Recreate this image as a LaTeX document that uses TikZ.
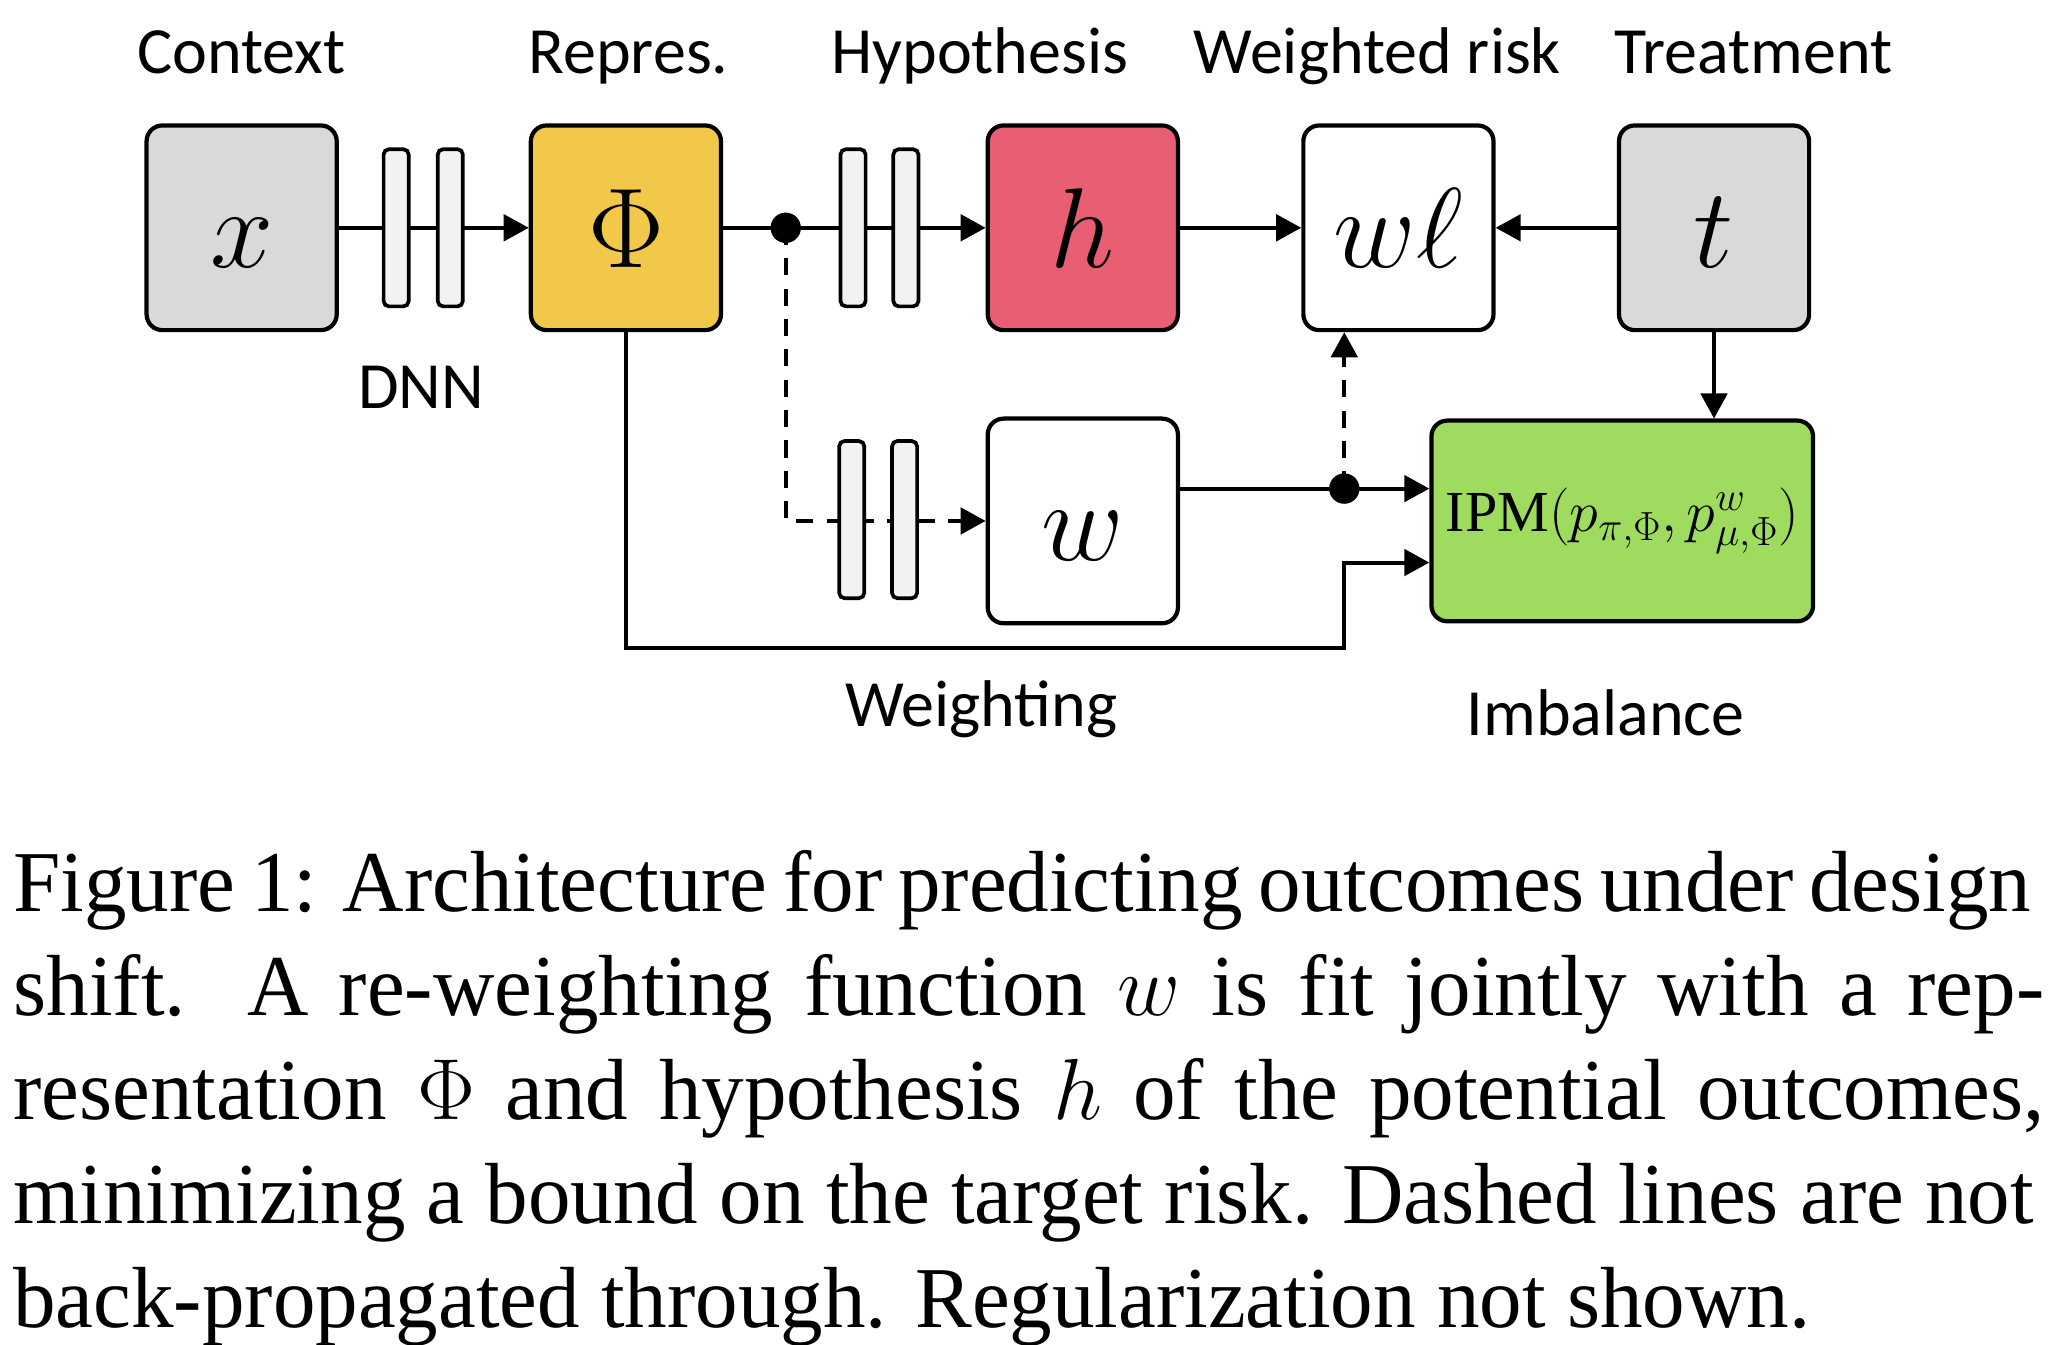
\RequirePackage{fix-cm}
\documentclass[tikz,border=0pt]{standalone}
\usepackage{fontspec}
\setmainfont{Liberation Serif}
\newfontfamily\labelfont{Carlito}
\newfontfamily\capfont{Liberation Serif}[FakeStretch=0.98]
\usetikzlibrary{arrows.meta}
\definecolor{grayfill}{HTML}{D9D9D9}
\definecolor{yellowfill}{HTML}{F2C84A}
\definecolor{redfill}{HTML}{E85E73}
\definecolor{greenfill}{HTML}{9EDB5E}
\definecolor{barfill}{HTML}{F2F2F2}
\tikzset{
  mainbox/.style={draw, line width=3.2pt, rounded corners=12pt, minimum width=144pt,
    minimum height=155pt, inner sep=0pt},
  sqbox/.style={mainbox, font=\fontsize{86}{86}\selectfont, text height=60pt, text depth=0pt},
  layerbar/.style={draw, line width=2.8pt, fill=barfill, rounded corners=4pt,
    minimum width=19pt, minimum height=119pt, inner sep=0pt},
  conn/.style={line width=3pt, -{Triangle[length=19pt,width=20pt]}},
  dashconn/.style={conn, dash pattern=on 13pt off 10pt},
  junction/.style={circle, fill=black, inner sep=0pt, minimum size=23pt},
  lab/.style={font=\labelfont\fontsize{50}{60}\selectfont, anchor=base, inner sep=0pt},
  captionline/.style={font=\capfont\fontsize{65.7}{78.8}\selectfont, anchor=base west, inner sep=0pt}
}
\begin{document}
\begin{tikzpicture}[x=1pt,y=-1pt]
\useasboundingbox (0,0) rectangle (1560,1018);
% top labels
\node[lab] (lctx) at (183,56) {Context};
\node[lab] (lrep) at (476,56) {Repres.};
\node[lab] (lhyp) at (742,56) {Hypothesis};
\node[lab] (lwr) at (1043,56) {Weighted risk};
\node[lab] (ltr) at (1328,56) {Treatment};
\node[lab] (ldnn) at (319,309) {DNN};
\node[lab] (lwgt) at (743,550) {Weighting};
\node[lab] (limb) at (1216,557) {Imbalance};
% main boxes
\node[sqbox, fill=grayfill] (x) at (183,172.5) {$x$};
\node[sqbox, fill=yellowfill] (phi) at (474,172.5) {$\Phi$};
\node[sqbox, fill=redfill] (h) at (820,172.5) {$h$};
\node[sqbox, fill=white] (wl) at (1059,172.5) {$w\ell$};
\node[sqbox, fill=grayfill] (t) at (1298,172.5) {$t$};
\node[sqbox, fill=white] (w) at (820,394.5) {$w$};
\node[mainbox, fill=greenfill, minimum width=289pt, minimum height=152pt,
  font=\fontsize{44}{44}\selectfont] (ipm) at (1228.5,394.5)
  {$\mathrm{IPM}(p_{\pi,\Phi},p^{w}_{\mu,\Phi})$};
% junction coordinates
\coordinate (d1c) at (595,172.5);
\coordinate (d2c) at (1018,370);
\coordinate (c1) at (1018,491);
\coordinate (c2) at (1018,426);
% connectors
\draw[conn] (x.east) -- (phi.west);
\draw[conn] (phi.east) -- (h.west);
\draw[dashconn] (d1c) |- (w.west);
\draw[conn] (h.east) -- (wl.west);
\draw[conn] (t.west) -- (wl.east);
\draw[conn] (t.south) -- (t.south |- ipm.north);
\draw[conn] (w.east |- d2c) -- (ipm.west |- d2c);
\draw[dashconn] (d2c) -- (d2c |- wl.south);
\draw[conn] (phi.south) |- (c1) -- (c2) -- (ipm.west |- c2);
% layer bars
\node[layerbar] (b1) at (300,172.5) {};
\node[layerbar] (b2) at (341,172.5) {};
\node[layerbar] (b3) at (646,172.5) {};
\node[layerbar] (b4) at (686,172.5) {};
\node[layerbar] (b5) at (645,393.5) {};
\node[layerbar] (b6) at (685,393.5) {};
% junction dots
\node[junction] (d1) at (d1c) {};
\node[junction] (d2) at (d2c) {};
% caption
\node[captionline] (cap1) at (10,690) {\makebox[1528pt][s]{Figure 1: Architecture for predicting outcomes under design}};
\node[captionline] (cap2) at (10,768.8) {\makebox[1538pt][s]{shift.\ \ A re-weighting function $w$ is fit jointly with a rep-}};
\node[captionline] (cap3) at (10,847.6) {\makebox[1538pt][s]{resentation $\Phi$ and hypothesis $h$ of the potential outcomes,}};
\node[captionline] (cap4) at (10,926.4) {\makebox[1530pt][s]{minimizing a bound on the target risk. Dashed lines are not}};
\node[captionline] (cap5) at (10,1005.2) {back-propagated through. Regularization not shown.};
\end{tikzpicture}
\end{document}
